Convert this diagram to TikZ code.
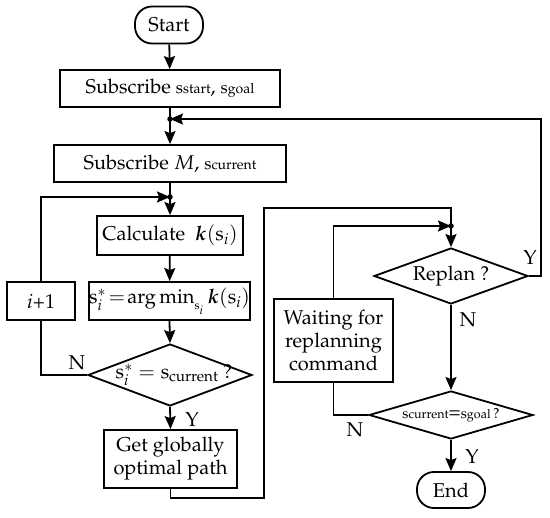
\documentclass[tikz,border=0pt]{standalone}
\usepackage[T1]{fontenc}
\usepackage{amsmath}
\usepackage{mathpazo}
\usetikzlibrary{shapes.geometric,arrows.meta}
\newcommand{\myS}{\fontsize{17}{17}\selectfont}
\newcommand{\mySub}{\fontsize{14}{14}\selectfont}
\newcommand{\myD}{\fontsize{14.5}{14.5}\selectfont}
\newcommand{\myDs}{\fontsize{12.5}{12.5}\selectfont}
\begin{document}
\begin{tikzpicture}[x=1pt,y=-1pt,
  font=\fontsize{20}{23}\selectfont,
  line width=1.8pt,
  >={Stealth[length=13pt,width=11pt,inset=2pt]},
  box/.style={draw,rectangle,inner sep=0pt,align=center},
  term/.style={draw,rectangle,rounded corners=17pt,inner sep=0pt},
  dia/.style={draw,diamond,inner sep=0pt},
  dot/.style={circle,fill,inner sep=0pt,minimum size=5.5pt},
  lbl/.style={inner sep=0pt}]
\useasboundingbox (0,0) rectangle (550,518);
% nodes
\node[term,minimum width=68pt,minimum height=37pt] (start) at (169,25) {Start};
\node[box,minimum width=220pt,minimum height=37pt] (sub1) at (170,88.5)
  {Subscribe {\myS s}{\mySub start}, {\myS s}{\mySub goal}};
\node[box,minimum width=232pt,minimum height=37pt] (sub2) at (170,163.5)
  {Subscribe $M$, {\myS s}{\mySub current}};
\node[box,minimum width=146pt,minimum height=39pt] (calc) at (170,235.5)
  {Calculate\ \ $\boldsymbol{k}(\mathrm{s}_i)$};
\node[box,minimum width=155pt,minimum height=38pt] (argm) at (169.5,301)
  {$\mathrm{s}_i^*\!=\!\operatorname{arg\,min}_{\scriptscriptstyle \mathrm{s}_i}\boldsymbol{k}(\mathrm{s}_i)$};
\node[box,minimum width=68pt,minimum height=38pt] (iplus) at (41,301) {$i$+1};
\node[dia,minimum width=164pt,minimum height=62pt,
  label={[lbl,xshift=4pt]center:$\mathrm{s}_i^*=\mathrm{s}_{\text{current}}$ ?}] (d1) at (170,375) {};
\node[box,minimum width=133pt,minimum height=58pt] (getp) at (170.5,459)
  {Get globally\\optimal path};
\node[dia,minimum width=154pt,minimum height=56pt,
  label={[lbl]center:Replan ?}] (replan) at (451,276) {};
\node[box,minimum width=119pt,minimum height=83pt] (wait) at (333.5,340.5)
  {Waiting for\\replanning\\command};
\node[dia,minimum width=164pt,minimum height=48pt,
  label={[lbl]center:{\myD s}{\myDs current}={\myD s}{\myDs goal}{\myD\,?}}] (d2) at (451,415) {};
\node[term,minimum width=68pt,minimum height=36pt] (end) at (451,490) {End};
% junctions and corners
\coordinate (j1) at (170,119);
\coordinate (j2) at (170,197);
\coordinate (j3) at (451,226);
\coordinate (yr) at (541,119);
\coordinate (g1) at (170.5,498);
\coordinate (g2) at (264,208);
% connectors
\draw[->] (start) -- (sub1);
\draw[->] (sub1.south) -- (sub2.north);
\draw[->] (replan.east) -| (yr) -- (j1);
\draw[->] (sub2.south) -- (calc.north);
\draw[->] (iplus.north) |- (j2);
\draw[->] (calc) -- (argm);
\draw[->] (argm.south) -- (d1.north);
\draw (d1.west) -| (iplus.south);
\draw[->] (d1.south) -- (getp.north);
\draw (getp.south) -- (g1) -| (g2) -| (j3);
\draw[->] (j3) -- (replan.north);
\draw[->] (wait.north) |- (j3);
\draw[->] (replan.south) -- (d2.north);
\draw (d2.west) -| (wait.south);
\draw[->] (d2.south) -- (end.north);
\node[dot] (dj1) at (j1) {};
\node[dot] (dj2) at (j2) {};
\node[dot] (dj3) at (j3) {};
% branch labels
\node[lbl] (n1) at (77,363) {N};
\node[lbl] (y1) at (192,420) {Y};
\node[lbl] (y2) at (530,258) {Y};
\node[lbl] (n2) at (468,320) {N};
\node[lbl] (n3) at (355,430) {N};
\node[lbl] (y3) at (472,457) {Y};
\end{tikzpicture}
\end{document}
